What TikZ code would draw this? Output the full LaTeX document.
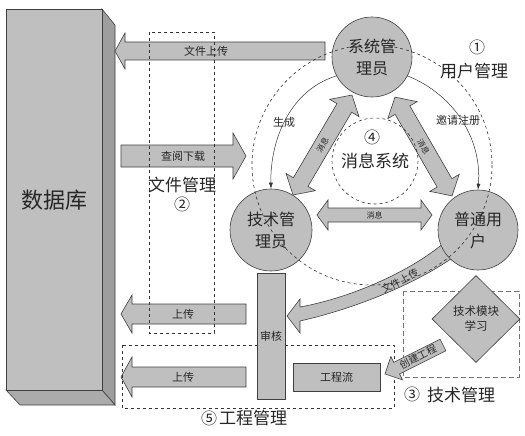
\documentclass[tikz,border=0pt]{standalone}
\usepackage{fontspec}
\setmainfont{Noto Sans CJK SC}
\usetikzlibrary{arrows.meta,shapes.geometric}
\newcommand\fs[1]{\fontsize{#1}{#1}\selectfont}
\newcommand\darrowpath[4]{(-#1,0) -- (-#1+#4,#3) -- (-#1+#4,#2) -- (#1-#4,#2) -- (#1-#4,#3) -- (#1,0) -- (#1-#4,-#3) -- (#1-#4,-#2) -- (-#1+#4,-#2) -- (-#1+#4,-#3) -- cycle}
\newcommand\sarrowpath[4]{(-#1,-#2) -- (#1-#4,-#2) -- (#1-#4,-#3) -- (#1,0) -- (#1-#4,#3) -- (#1-#4,#2) -- (-#1,#2) -- cycle}
\tikzset{
  blk/.style={draw=black!75, fill=black!25, line width=0.6pt, line join=miter},
  circ/.style={circle, draw=black!75, fill=black!25, line width=0.6pt, minimum size=80pt, inner sep=0pt, align=center, font={\fontsize{16}{22}\selectfont}, text=black!85},
  boxr/.style={draw=black!75, fill=black!25, line width=0.6pt, inner sep=0pt, text=black!85},
  dashbox/.style={draw=black!80, dashed, line width=0.7pt},
  lbl/.style={inner sep=0pt, text=black!85},
  numlbl/.style={inner sep=0pt, text=black!85, font=\fs{16}},
  thinarr/.style={draw=black!80, line width=0.5pt, -{Latex[length=6pt,width=4pt]}},
}
\begin{document}
\begin{tikzpicture}[x=1pt,y=-1pt]
\useasboundingbox (0,0) rectangle (525,436);
% database
\draw[blk, fill=black!38] (102,9) -- (115,25) -- (115,405) -- (102,390) -- cycle;
\draw[blk, fill=black!33] (6,390) -- (102,390) -- (115,405) -- (20,405) -- cycle;
\draw[blk] (6,9) rectangle (102,390);
\node[lbl, font=\fs{22}] (db) at (54,200) {数据库};
% left/right block arrows
\draw[blk] (115,51) -- (125,33) -- (125,42) -- (325,42) -- (325,60) -- (125,60) -- (125,69) -- cycle;
\node[lbl, font=\fs{11}] (up1) at (206,51) {文件上传};
\draw[blk] (121,145) -- (233,145) -- (233,133) -- (246,156) -- (233,179) -- (233,167) -- (121,167) -- cycle;
\node[lbl, font=\fs{11}] (down) at (183,156) {查阅下载};
\draw[blk] (121,314) -- (132,295) -- (132,304) -- (246,304) -- (246,324) -- (132,324) -- (132,333) -- cycle;
\node[lbl, font=\fs{11}] (up2) at (183,314) {上传};
\draw[blk] (121,377) -- (132,357) -- (132,367) -- (246,367) -- (246,387) -- (132,387) -- (132,397) -- cycle;
\node[lbl, font=\fs{11}] (up3) at (183,377) {上传};
% file management dashed box
\draw[dashbox] (149,32) rectangle (214,333);
\node[lbl, font=\fs{17}] (fm) at (182,185) {文件管理};
\node[numlbl] (n2) at (182,204) {②};
% project management dashed box
\draw[dashbox] (122,345) rectangle (394,408);
\node[lbl, font=\fs{17}] (pm) at (253,418) {工程管理};
\node[numlbl] (n5) at (209,418) {⑤};
% audit and flow
\node[boxr, minimum width=28pt, minimum height=126pt, font=\fs{11}] (audit) at (271,336) {审核};
\node[boxr, minimum width=87pt, minimum height=28pt, font=\fs{11}] (flow) at (336.5,377) {工程流};
% tech management dashed box
\draw[draw=black!55, line width=1pt, dash pattern=on 5pt off 3pt] (403,291) rectangle (519,377);
\node[lbl, font=\fs{17}] (tm) at (461,395) {技术管理};
\node[numlbl] (n3) at (412,394) {③};
\node[diamond, draw=black!75, fill=black!25, line width=0.6pt, minimum width=88pt, minimum height=87pt, inner sep=0pt, align=center, font={\fontsize{11.5}{15}\selectfont}, text=black!85] (learn) at (476,319) {技术模块\\学习};
% create project arrow
\begin{scope}[shift={(414,359.5)}, rotate=206.6]
\draw[blk] \sarrowpath{32.4}{6.5}{13}{13};
\end{scope}
\node[lbl, font=\fs{10}, rotate=26.6] (cp) at (418,357) {创建工程};
% curved upload arrow
\draw[blk] (445,242) .. controls (410,272) and (350,298) .. (300,307) -- (300,299) -- (287,316) -- (300,333) -- (300,321) .. controls (362,307) and (422,280) .. (455,256) -- cycle;
\node[lbl, font=\fs{10}, rotate=28] (up4) at (400,281) {文件上传};
% message arrows
\begin{scope}[shift={(322.5,145)}, rotate=59.5]
\draw[blk] \darrowpath{58}{8.5}{17}{15};
\end{scope}
\node[lbl, font=\fs{8}, rotate=59.5] (m1) at (322.5,145) {消息};
\begin{scope}[shift={(423.5,146.5)}, rotate=-60]
\draw[blk] \darrowpath{57}{8.5}{17}{15};
\end{scope}
\node[lbl, font=\fs{8}, rotate=-60] (m2) at (423.5,146.5) {消息};
\begin{scope}[shift={(374.5,215)}]
\draw[blk] \darrowpath{57.5}{7}{15}{11};
\end{scope}
\node[lbl, font=\fs{8}] (m3) at (374.5,215) {消息};
% circles
\node[circ] (sys) at (372,57) {系统管\\理员};
\node[circ, minimum size=82pt] (tech) at (271,230) {技术管\\理员};
\node[circ] (user) at (478,230) {普通用\\户};
% thin arrows
\draw[thinarr] (sys.208) .. controls (290,90) and (270,140) .. (tech.north);
\node[lbl, font=\fs{11}] (gen) at (284,122) {生成};
\draw[thinarr] (sys.-28) .. controls (455,95) and (482,140) .. (user.north);
\node[lbl, font=\fs{11}] (inv) at (458,120) {邀请注册};
% user management dashed circle
\draw[dashed, draw=black!80, line width=0.6pt] (372,165) circle[radius=120];
\node[numlbl] (n1) at (477,47) {①};
\node[lbl, font=\fs{17}] (um) at (474,71) {用户管理};
% message system dashed circle
\draw[dashed, draw=black!80, line width=0.6pt] (375,161) circle[radius=43];
\node[numlbl] (n4) at (372,137) {④};
\node[lbl, font=\fs{17}] (ms) at (375,161) {消息系统};
\end{tikzpicture}
\end{document}
